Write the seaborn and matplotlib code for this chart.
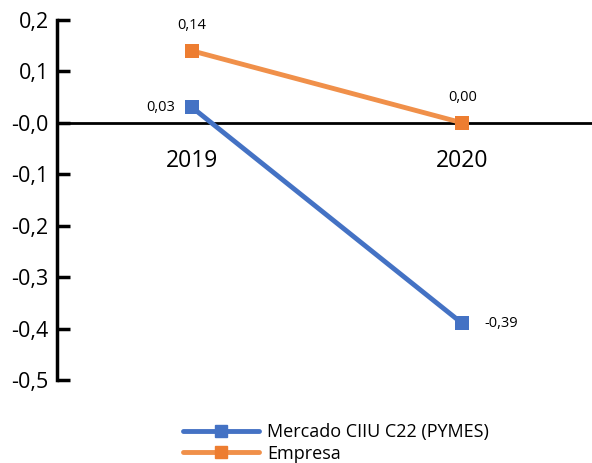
import matplotlib
matplotlib.use("Agg")
import matplotlib.pyplot as plt
import seaborn as sns
import pandas as pd

years = ["2019", "2020"]
mercado = [0.03, -0.39]
empresa = [0.14, 0.00]
series_names = ["Mercado CIIU C22 (PYMES)", "Empresa"]
y_ticks = [0.2, 0.1, 0.0, -0.1, -0.2, -0.3, -0.4, -0.5]
y_tick_labels = ["0,2", "0,1", "-0,0", "-0,1", "-0,2", "-0,3", "-0,4", "-0,5"]

sns.set_style("white")
plt.rcParams["font.family"] = ["Open Sans", "DejaVu Sans"]
plt.rcParams["text.color"] = "black"
plt.rcParams["xtick.color"] = "black"
plt.rcParams["ytick.color"] = "black"

df = pd.DataFrame({
    "Año": list(range(len(years))) * 2,
    "Valor": mercado + empresa,
    "Serie": [series_names[0]] * len(years) + [series_names[1]] * len(years),
})

fig = plt.figure(figsize=(5.92, 4.63), dpi=100)
ax = fig.add_axes([57 / 592, 1 - 380 / 463, (592 - 57) / 592, (380 - 20) / 463])

palette = {series_names[0]: "#4472C4", series_names[1]: "#F0904A"}
marker_cols = ["#4472C4", "#ED7D31"]
sns.lineplot(data=df, x="Año", y="Valor", hue="Serie", palette=palette,
             marker="s", markersize=10, markeredgewidth=0, linewidth=3.5,
             ax=ax, legend=False, zorder=3)
# orange markers are a touch darker than the line
for line, col in zip(ax.lines, marker_cols):
    line.set_markerfacecolor(col)
    line.set_markeredgecolor(col)

ax.set_xlim(-0.5, 1.48)
ax.set_ylim(-0.5, 0.2)
ax.set_xticks(range(len(years)))
ax.set_xticklabels(years)
ax.set_yticks(y_ticks)
ax.set_yticklabels(y_tick_labels)
ax.set_xlabel("")
ax.set_ylabel("")

for s in ["top", "right"]:
    ax.spines[s].set_visible(False)
ax.spines["bottom"].set_position(("data", 0))
ax.spines["bottom"].set_linewidth(2)
ax.spines["bottom"].set_color("black")
ax.spines["bottom"].set_zorder(2)
ax.spines["left"].set_linewidth(2.5)
ax.spines["left"].set_color("black")

ax.tick_params(axis="y", direction="in", length=9, width=2.5, color="black",
               labelsize=15.5, pad=6, left=True, labelcolor="black")
ax.tick_params(axis="x", length=0, labelsize=16.5, pad=19, labelcolor="black")

# value labels
lbl = dict(fontsize=10.5, color="black")
ax.annotate("0,03", (0, mercado[0]), xytext=(-12, 0), textcoords="offset points",
            ha="right", va="center", **lbl)
ax.annotate("-0,39", (1, mercado[1]), xytext=(16, 0), textcoords="offset points",
            ha="left", va="center", **lbl)
ax.annotate("0,14", (0, empresa[0]), xytext=(0, 18), textcoords="offset points",
            ha="center", va="center", **lbl)
ax.annotate("0,00", (1, empresa[1]), xytext=(0, 18), textcoords="offset points",
            ha="center", va="center", **lbl)

handles = [plt.Line2D([], [], color=palette[n], lw=3.5, marker="s", markersize=9,
                      markerfacecolor=c, markeredgecolor=c)
           for n, c in zip(series_names, marker_cols)]
fig.legend(handles, series_names, loc="upper left", bbox_to_anchor=(183 / 592, 1 - 423 / 463),
           frameon=False, fontsize=13, handlelength=4.2, handletextpad=0.45,
           labelspacing=0.2, borderpad=0, borderaxespad=0)

fig.savefig("out.png", dpi=100)
